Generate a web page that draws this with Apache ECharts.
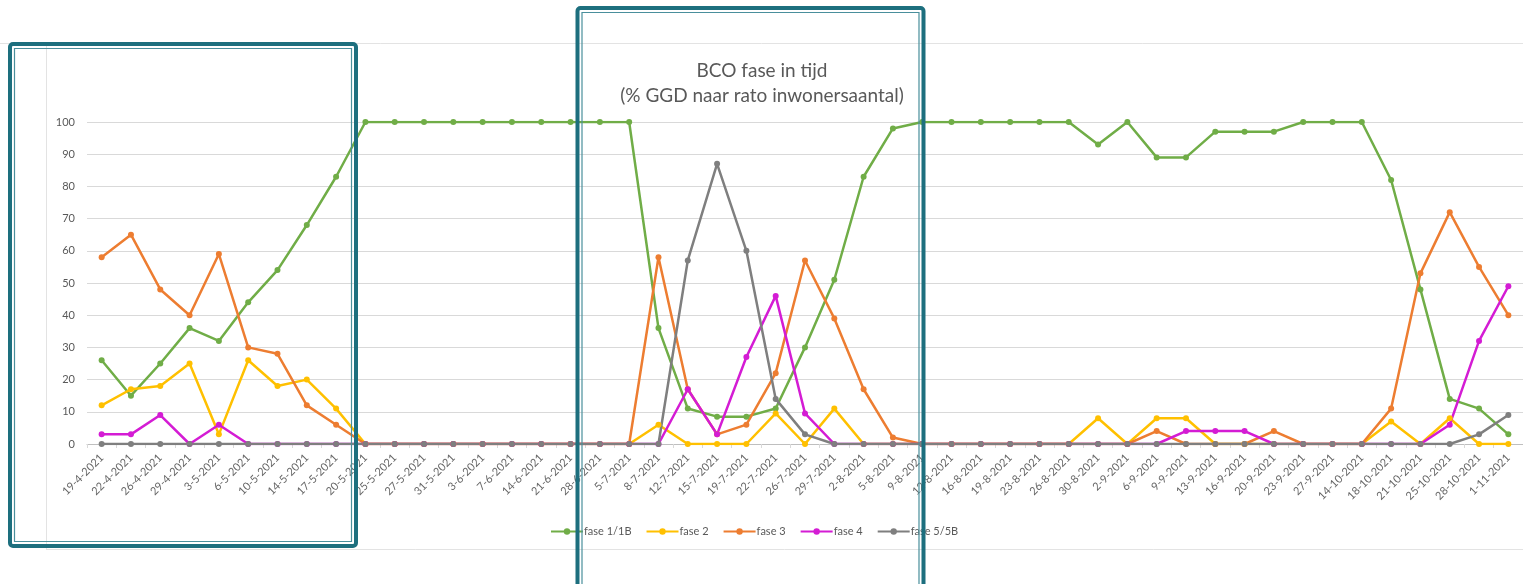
<!DOCTYPE html>
<html>
<head>
<meta charset="utf-8">
<title>BCO fase in tijd</title>
<script src="https://cdn.jsdelivr.net/npm/echarts@6/dist/echarts.min.js"></script>
<style>
html, body { margin: 0; padding: 0; background: #fff; }
#main { width: 1523px; height: 584px; }
</style>
</head>
<body>
<div id="main"></div>
<script>
// categorieen (datums)
const dates = [
  '19-4-2021', '22-4-2021', '26-4-2021', '29-4-2021', '3-5-2021', '6-5-2021', '10-5-2021',
  '14-5-2021', '17-5-2021', '20-5-2021', '25-5-2021', '27-5-2021', '31-5-2021', '3-6-2021',
  '7-6-2021', '14-6-2021', '21-6-2021', '28-6-2021', '5-7-2021', '8-7-2021', '12-7-2021',
  '15-7-2021', '19-7-2021', '22-7-2021', '26-7-2021', '29-7-2021', '2-8-2021', '5-8-2021',
  '9-8-2021', '12-8-2021', '16-8-2021', '19-8-2021', '23-8-2021', '26-8-2021', '30-8-2021',
  '2-9-2021', '6-9-2021', '9-9-2021', '13-9-2021', '16-9-2021', '20-9-2021', '23-9-2021',
  '27-9-2021', '14-10-2021', '18-10-2021', '21-10-2021', '25-10-2021', '28-10-2021', '1-11-2021'
]

const fase1 = [
  26, 15, 25, 36, 32, 44, 54, 68, 83, 100, 100, 100, 100, 100,
  100, 100, 100, 100, 100, 36, 11, 8.5, 8.5, 11, 30, 51, 83, 98,
  100, 100, 100, 100, 100, 100, 93, 100, 89, 89, 97, 97, 97, 100,
  100, 100, 82, 48, 14, 11, 3
]
const fase2 = [
  12, 17, 18, 25, 3, 26, 18, 20, 11, 0, 0, 0, 0, 0,
  0, 0, 0, 0, 0, 6, 0, 0, 0, 9.5, 0, 11, 0, 0,
  0, 0, 0, 0, 0, 0, 8, 0, 8, 8, 0, 0, 0, 0,
  0, 0, 7, 0, 8, 0, 0
]
const fase3 = [
  58, 65, 48, 40, 59, 30, 28, 12, 6, 0, 0, 0, 0, 0,
  0, 0, 0, 0, 0, 58, 17, 3, 6, 22, 57, 39, 17, 2,
  0, 0, 0, 0, 0, 0, 0, 0, 4, 0, 0, 0, 4, 0,
  0, 0, 11, 53, 72, 55, 40
]
const fase4 = [
  3, 3, 9, 0, 6, 0, 0, 0, 0, 0, 0, 0, 0, 0,
  0, 0, 0, 0, 0, 0, 17, 3, 27, 46, 9.5, 0, 0, 0,
  0, 0, 0, 0, 0, 0, 0, 0, 0, 4, 4, 4, 0, 0,
  0, 0, 0, 0, 6, 32, 49
]
const fase5 = [
  0, 0, 0, 0, 0, 0, 0, 0, 0, 0, 0, 0, 0, 0,
  0, 0, 0, 0, 0, 0, 57, 87, 60, 14, 3, 0, 0, 0,
  0, 0, 0, 0, 0, 0, 0, 0, 0, 0, 0, 0, 0, 0,
  0, 0, 0, 0, 0, 3, 9
]

const seriesNames = ['fase 1/1B', 'fase 2', 'fase 3', 'fase 4', 'fase 5/5B']
const seriesData = [fase1, fase2, fase3, fase4, fase5]
const colors = ['#70ad47', '#ffc000', '#ed7d31', '#d41cd4', '#7f7f7f']

const fontFam = 'Lato, "Open Sans", sans-serif'
const teal = '#1d6f7e'

// kaders zoals in de screenshot
const frame = (x, y, w, h) => [
  {
    type: 'rect', z: 100,
    shape: { x: x, y: y, width: w, height: h, r: 3 },
    style: { fill: 'none', stroke: teal, lineWidth: 4 }
  },
  {
    type: 'rect', z: 100,
    shape: { x: x + 4.5, y: y + 4.5, width: w - 9, height: h - 9 },
    style: { fill: 'none', stroke: '#4a8f9c', lineWidth: 1.2 }
  }
]

const option = {
  animation: false,
  backgroundColor: '#fff',
  color: colors,
  title: {
    text: 'BCO fase in tijd\n(% GGD naar rato inwonersaantal)',
    left: 757,
    top: 53,
    textAlign: 'center',
    textStyle: {
      fontFamily: fontFam,
      fontSize: 19,
      fontWeight: 'normal',
      color: '#595959',
      lineHeight: 25
    }
  },
  legend: {
    data: seriesNames,
    left: 545,
    top: 521,
    itemWidth: 32,
    itemHeight: 8,
    itemGap: 14,
    textStyle: { fontFamily: fontFam, fontSize: 11, color: '#595959', padding: [0, 0, 0, -4] }
  },
  grid: {
    left: 87,
    top: 122,
    width: 1441,
    height: 322,
    containLabel: false
  },
  xAxis: {
    type: 'category',
    boundaryGap: true,
    data: dates,
    axisLine: { lineStyle: { color: '#bfbfbf', width: 1 } },
    axisTick: { show: true, length: 4, lineStyle: { color: '#d9d9d9' } },
    axisLabel: {
      interval: 0,
      rotate: 45,
      fontFamily: fontFam,
      fontSize: 11,
      color: '#666666',
      margin: 12
    }
  },
  yAxis: {
    type: 'value',
    min: 0,
    max: 100,
    interval: 10,
    axisLine: { show: false },
    axisTick: { show: false },
    axisLabel: { fontFamily: fontFam, fontSize: 11, color: '#595959', margin: 12 },
    splitLine: { lineStyle: { color: '#d9d9d9', width: 1 } }
  },
  series: seriesNames.map((name, i) => ({
    name: name,
    type: 'line',
    data: seriesData[i],
    symbol: 'circle',
    symbolSize: 6,
    lineStyle: { width: 2.5, color: colors[i] },
    itemStyle: { color: colors[i] }
  })),
  graphic: [
    // lichte grafiekrand
    { type: 'line', shape: { x1: 0, y1: 43.5, x2: 1523, y2: 43.5 }, style: { stroke: '#e3e3e3', lineWidth: 1 } },
    { type: 'line', shape: { x1: 46.5, y1: 43, x2: 46.5, y2: 549 }, style: { stroke: '#e3e3e3', lineWidth: 1 } },
    { type: 'line', shape: { x1: 46, y1: 549.5, x2: 1523, y2: 549.5 }, style: { stroke: '#e3e3e3', lineWidth: 1 } }
  ].concat(frame(10, 44, 346, 502), frame(577.5, 8, 346, 590))
}

const myChart = echarts.init(document.getElementById('main'))
myChart.setOption(option)
</script>
</body>
</html>
